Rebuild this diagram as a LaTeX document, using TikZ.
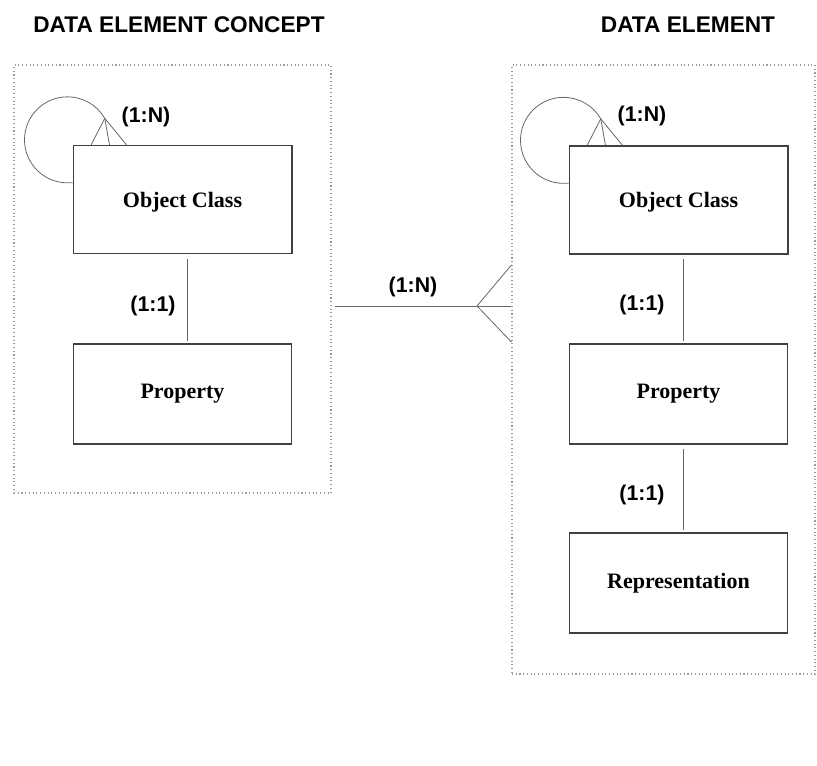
\documentclass[tikz,border=0pt]{standalone}
\usepackage{fontspec}
\setmainfont{Liberation Serif}
\setsansfont{Liberation Sans}
\usepackage{tikz}
\usetikzlibrary{shapes, arrows.meta, positioning}

\begin{document}
\begin{tikzpicture}[x=0.75pt, y=-0.75pt,
            entity/.style={draw=black!75, line width=0.8pt, rectangle, minimum width=164pt, minimum height=75pt, font=\fontsize{16.5}{19}\selectfont\bfseries},
            frame/.style={draw=gray!80, dotted, line width=0.8pt, rectangle},
            title/.style={font=\fontsize{17}{20}\selectfont\sffamily\bfseries},
            card/.style={font=\fontsize{16}{19}\selectfont\sffamily\bfseries},
            link/.style={draw=black!60, line width=0.6pt}]
            \useasboundingbox (0,0) rectangle (817,766);

            \node[title] (tconcept) at (179,25) {DATA ELEMENT CONCEPT};
            \node[title] (telement) at (688,25) {DATA ELEMENT};

            \node[frame, minimum width=237.75pt, minimum height=321pt] (grpA) at (172.5,279) {};
            \node[frame, minimum width=227.25pt, minimum height=456.75pt] (grpB) at (663.5,369.5) {};

            \node[entity, minimum height=81pt, line width=1pt, text depth=-4pt] (ocA) at (182.5,199.5) {Object Class};
            \node[entity] (propA) at (182.5,394) {Property};
            \node[entity, minimum height=81pt, line width=1pt, text depth=-4pt] (ocB) at (678.5,200) {Object Class};
            \node[entity] (propB) at (678.5,394) {Property};
            \node[entity] (repB) at (678.5,583) {Representation};

            \draw[link] ([xshift=4pt, yshift=-3.5pt]ocA.south) -- ([xshift=4pt, yshift=2pt]propA.north);
            \draw[link] ([xshift=4pt, yshift=-3.5pt]ocB.south) -- ([xshift=4pt, yshift=2pt]propB.north);
            \draw[link] ([xshift=4pt, yshift=-3pt]propB.south) -- ([xshift=4pt, yshift=2pt]repB.north);

            \node[card] (cA) at (153,306) {(1:1)};
            \node[card] (cB) at (642,305) {(1:1)};
            \node[card] (cC) at (642,495) {(1:1)};

            % recursive links on object class
            \draw[link] ([yshift=-28.5pt]ocA.north west) -- ++(-5,0)
                arc[start angle=270, end angle=30, radius=32.25pt] coordinate (tipA);
            \draw[link] (tipA) -- ([xshift=14pt]ocA.north west);
            \draw[link] (tipA) -- ([xshift=27.75pt]ocA.north west);
            \draw[link] (tipA) -- ([xshift=40.5pt]ocA.north west);
            \node[card] (rA) at (146,117) {(1:N)};

            \draw[link] ([yshift=-28.5pt]ocB.north west) -- ++(-5,0)
                arc[start angle=270, end angle=30, radius=32.25pt] coordinate (tipB);
            \draw[link] (tipB) -- ([xshift=14pt]ocB.north west);
            \draw[link] (tipB) -- ([xshift=27.75pt]ocB.north west);
            \draw[link] (tipB) -- ([xshift=40.5pt]ocB.north west);
            \node[card] (rB) at (642,116) {(1:N)};

            % concept to element
            \coordinate (from) at (335,306);
            \coordinate (fork) at (477,306);
            \draw[link] (from) -- (fork);
            \draw[link] (fork) -- (grpB.west |- fork);
            \draw[link] (fork) -- ([yshift=30.75pt]grpB.west |- fork);
            \draw[link] (fork) -- ([yshift=-27pt]grpB.west |- fork);
            \node[card] (mid) at (413,287) {(1:N)};
        \end{tikzpicture}
\end{document}
